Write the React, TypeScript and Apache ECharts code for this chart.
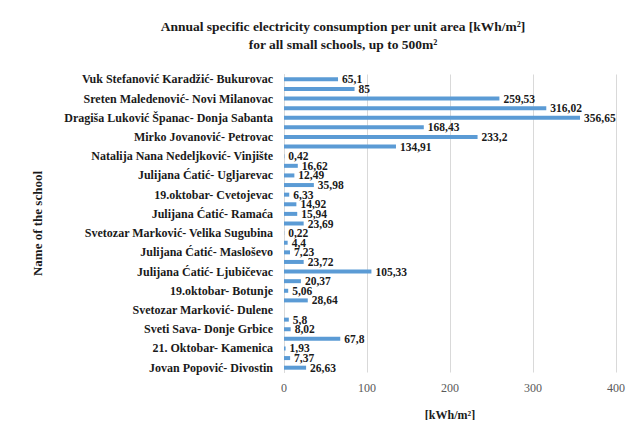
import React, { useEffect, useRef } from "react";
import * as echarts from "echarts";

const titleLines = [
  "Annual specific electricity consumption per unit area [kWh/m²]",
  "for all small schools, up to 500m²",
];

const schools = [
  "Vuk Stefanović Karadžić- Bukurovac", "",
  "Sreten Maledenović- Novi Milanovac", "",
  "Dragiša Luković Španac- Donja Sabanta", "",
  "Mirko Jovanović- Petrovac", "",
  "Natalija Nana Nedeljković- Vinjište", "",
  "Julijana Ćatić- Ugljarevac", "",
  "19.oktobar- Cvetojevac", "",
  "Julijana Ćatić- Ramaća", "",
  "Svetozar Marković- Velika Sugubina", "",
  "Julijana Ćatić- Masloševo", "",
  "Julijana Ćatić- Ljubičevac", "",
  "19.oktobar- Botunje", "",
  "Svetozar Marković- Dulene", "",
  "Sveti Sava- Donje Grbice", "",
  "21. Oktobar- Kamenica", "",
  "Jovan Popović- Divostin",
];

const consumption: (number | null)[] = [
  65.1, 85,
  259.53, 316.02,
  356.65, 168.43,
  233.2, 134.91,
  0.42, 16.62,
  12.49, 35.98,
  6.33, 14.92,
  15.94, 23.69,
  0.22, 4.4,
  7.23, 23.72,
  105.33, 20.37,
  5.06, 28.64,
  null, 5.8,
  8.02, 67.8,
  1.93, 7.37,
  26.63,
];

const xTicks = { min: 0, max: 400, interval: 100 };
const xAxisName = "[kWh/m²]";
const yAxisName = "Name of the school";

const SERIF = "Liberation Serif";

export default function App() {
  const ref = useRef<HTMLDivElement>(null);
  useEffect(() => {
    if (!ref.current) return;
    const chart = echarts.init(ref.current, undefined, { renderer: "svg" });
    chart.setOption({
      animation: false,
      backgroundColor: "#ffffff",
      textStyle: { fontFamily: SERIF },
      graphic: [
        {
          type: "line",
          shape: { x1: 7.5, y1: 7.5, x2: 642, y2: 7.5 },
          style: { stroke: "#d0d0d0", lineWidth: 1 },
          silent: true,
        },
        {
          type: "line",
          shape: { x1: 7.5, y1: 7.5, x2: 7.5, y2: 428 },
          style: { stroke: "#d0d0d0", lineWidth: 1 },
          silent: true,
        },
      ],
      title: {
        text: titleLines.join("\n"),
        left: 338,
        top: 12,
        textAlign: "center",
        textStyle: {
          fontFamily: SERIF,
          fontWeight: "bold",
          fontSize: 13.5,
          lineHeight: 18,
          color: "#1a1a1a",
        },
      },
      grid: { left: 284, right: 26, top: 74.5, bottom: 55.5, containLabel: false },
      xAxis: {
        type: "value",
        min: xTicks.min,
        max: xTicks.max,
        interval: xTicks.interval,
        name: xAxisName,
        nameLocation: "middle",
        nameGap: 36,
        nameTextStyle: {
          fontFamily: SERIF,
          fontWeight: "bold",
          fontSize: 12,
          color: "#1a1a1a",
        },
        axisLine: { show: false },
        axisTick: { show: false },
        axisLabel: {
          fontFamily: SERIF,
          fontSize: 12,
          color: "#595959",
          margin: 9,
        },
        splitLine: { show: true, lineStyle: { color: "#d9d9d9", width: 1 } },
      },
      yAxis: {
        type: "category",
        inverse: true,
        data: schools,
        name: yAxisName,
        nameLocation: "middle",
        nameGap: 240,
        nameRotate: 90,
        nameTextStyle: {
          fontFamily: SERIF,
          fontWeight: "bold",
          fontSize: 13,
          color: "#1a1a1a",
        },
        axisLine: { show: true, lineStyle: { color: "#d9d9d9" } },
        axisTick: { show: false },
        axisLabel: {
          interval: 0,
          fontFamily: SERIF,
          fontWeight: "bold",
          fontSize: 12,
          color: "#1a1a1a",
          margin: 11,
        },
      },
      series: [
        {
          type: "bar",
          data: consumption,
          barWidth: 4,
          itemStyle: { color: "#5b9bd5" },
          label: {
            show: true,
            position: "right",
            distance: 4,
            fontFamily: SERIF,
            fontWeight: "bold",
            fontSize: 11.5,
            color: "#1a1a1a",
            formatter: (p: any) =>
              p.value == null ? "" : String(p.value).replace(".", ","),
          },
        },
      ],
    });
    return () => chart.dispose();
  }, []);
  return <div ref={ref} style={{ width: 642, height: 428, margin: -8 }} />;
}
